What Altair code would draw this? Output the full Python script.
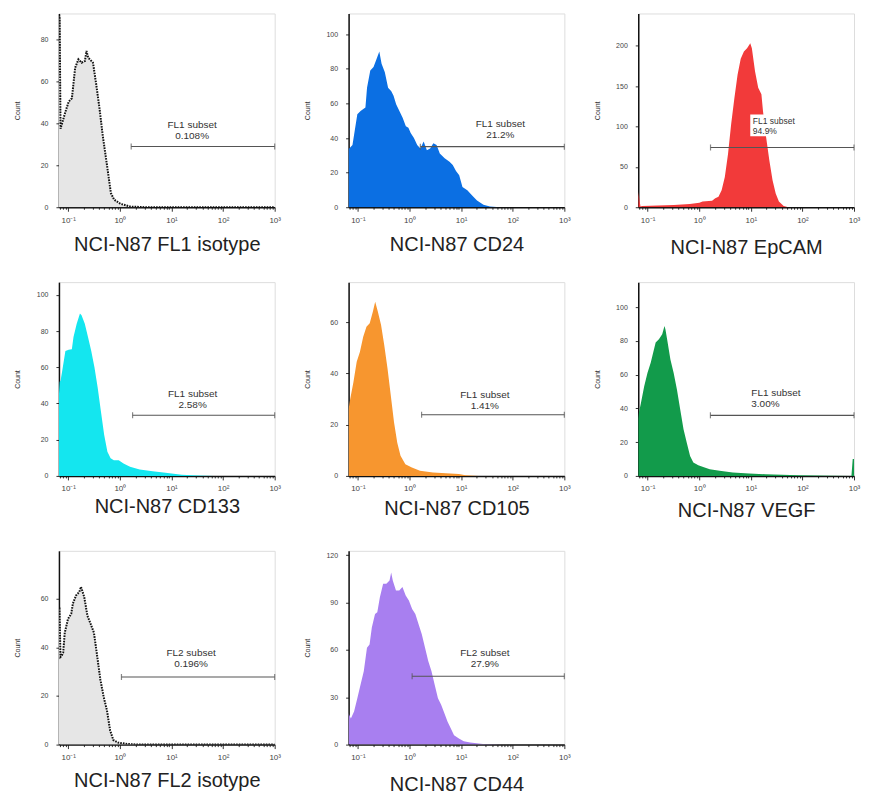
import altair as alt
import pandas as pd

# x values are log10 fluorescence positions (decades); y values are event counts
X_LO, X_HI = -1.18, 3.0

iso1_x = [-1.18, -1.167, -1.149, -1.054, -0.991, -0.929, -0.866, -0.803, -0.740, -0.677, -0.646, -0.614,
          -0.520, -0.457, -0.394, -0.331, -0.237, -0.174, -0.111, 0.014, 0.203, 0.517, 3.0]
iso1_y = [92, 90, 37.5, 45.6, 50.4, 52, 66.6, 70.6, 69, 69.8, 74.6, 71.4,
          69, 58.5, 47.2, 34.2, 18, 6.8, 3.6, 1.6, 0.3, 0, 0]

cd24_x = [-1.18, -1.167, -1.105, -1.073, -1.011, -0.948, -0.854, -0.823, -0.760, -0.697,
          -0.635, -0.585, -0.541, -0.478, -0.415, -0.353, -0.309, -0.259, -0.196, -0.133,
          -0.071, -0.021, 0.023, 0.086, 0.149, 0.211, 0.274, 0.337, 0.399, 0.462,
          0.525, 0.587, 0.681, 0.775, 0.838, 0.901, 0.963, 1.026, 1.120, 1.214,
          1.308, 1.433, 1.559, 1.747, 3.0]
cd24_y = [34, 34, 36, 42, 53.7, 55.6, 57.6, 69, 79, 81,
          86, 90, 83, 78, 69, 67, 64.4, 59.5, 55.6, 51.7,
          46.8, 45.9, 42.9, 40, 36, 34, 38, 33, 34, 37,
          36, 31, 28.3, 26.3, 24.4, 20.9, 18.5, 11.7, 9.8, 6.8,
          3.9, 1.4, 0.4, 0, 0]

epcam_x = [-1.18, -1.137, -1.106, -0.798, -0.490, -0.181, 0.004, 0.065, 0.250, 0.312,
           0.374, 0.435, 0.497, 0.559, 0.620, 0.682, 0.744, 0.805, 0.867, 0.928,
           0.990, 1.021, 1.083, 1.144, 1.206, 1.237, 1.298, 1.360, 1.422, 1.483,
           1.545, 1.637, 1.730, 3.0]
epcam_y = [19, 0.8, 1.5, 2, 2.9, 4, 5.7, 7, 8, 11,
           13, 21, 37.5, 66, 103, 135, 164, 184, 193, 197,
           203, 197, 168, 148, 140, 119, 86.5, 58, 33.5, 17,
           7, 1.6, 0, 0]

cd133_x = [-1.18, -1.167, -1.149, -1.117, -1.055, -0.992, -0.930, -0.898, -0.836, -0.773,
           -0.742, -0.679, -0.617, -0.554, -0.492, -0.429, -0.367, -0.304, -0.241, -0.179,
           -0.116, -0.022, 0.071, 0.197, 0.384, 0.635, 0.885, 1.198, 1.510, 1.823, 3.0]
cd133_y = [45, 52, 52.5, 58, 69, 69.6, 70, 76.7, 84, 89.7,
           88.7, 84, 76.7, 69, 60, 48.7, 35.7, 22.7, 13.4, 9.7,
           8.7, 8.7, 6.9, 5, 3.5, 2.6, 1.7, 0.7, 0.2, 0, 0]

cd105_x = [-1.18, -1.149, -1.086, -1.023, -0.960, -0.897, -0.834, -0.771, -0.709, -0.665,
           -0.614, -0.551, -0.489, -0.426, -0.363, -0.300, -0.237, -0.174, -0.080, 0.046,
           0.203, 0.454, 0.706, 0.957, 1.083, 1.334, 3.0]
cd105_y = [26, 30, 36.7, 44.6, 48.5, 54.4, 58.3, 59.6, 64.2, 68,
           64.2, 59, 51, 42, 31.5, 21, 13, 7.9, 4.6, 3.3,
           2, 1.3, 1, 0.7, 0.3, 0, 0]

vegf_x = [-1.18, -1.167, -1.129, -1.066, -1.002, -0.939, -0.907, -0.843, -0.780, -0.716,
          -0.672, -0.653, -0.621, -0.557, -0.494, -0.430, -0.367, -0.303, -0.240, -0.176,
          -0.113, -0.017, 0.078, 0.205, 0.396, 0.650, 0.967, 1.285, 1.920, 2.556,
          2.95, 2.975, 3.0]
vegf_y = [34, 37.5, 43, 53, 61, 67, 71, 79, 81, 84,
          88.8, 86.8, 81, 69, 61, 51, 39.4, 27.6, 19.7, 11.8,
          7.9, 6.3, 5.3, 3.9, 3, 2, 1.4, 1, 0.4, 0.1,
          0, 10, 10]

iso2_x = [-1.18, -1.17, -1.15, -1.130, -1.098, -1.067, -1.004, -0.942, -0.910, -0.847,
          -0.785, -0.753, -0.690, -0.628, -0.565, -0.502, -0.439, -0.377, -0.314, -0.251,
          -0.188, -0.126, -0.032, 0.125, 0.376, 3.0]
iso2_y = [56, 56, 36, 36.4, 37.8, 46, 51.7, 53.8, 58, 61.4,
          62.8, 64.9, 60.7, 53, 49.6, 46, 36.4, 26.7, 19.7, 14.2,
          5.8, 1.9, 0.8, 0.3, 0, 0]

cd44_x = [-1.18, -1.167, -1.136, -1.074, -1.011, -0.949, -0.886, -0.824, -0.774, -0.730,
          -0.668, -0.624, -0.574, -0.511, -0.449, -0.387, -0.355, -0.324, -0.262, -0.199,
          -0.137, -0.074, -0.012, 0.051, 0.113, 0.176, 0.238, 0.301, 0.363, 0.426,
          0.488, 0.551, 0.613, 0.676, 0.738, 0.801, 0.863, 0.957, 1.051, 1.176,
          1.425, 1.800, 3.0]
cd44_y = [20, 18.8, 16.6, 20.9, 29.4, 38, 46.5, 61.4, 63.5, 74.2,
          82.7, 83.8, 93.4, 102, 102, 104, 109, 104, 97.7, 97.7,
          99.8, 94.5, 91.3, 86, 82.7, 76.3, 70, 61.4, 52.9, 46.5,
          38, 29.4, 25.2, 19.8, 14.5, 10.2, 6, 3.8, 2.1, 1.3,
          0.4, 0, 0]

series_x = [iso1_x, cd24_x, epcam_x, cd133_x, cd105_x, vegf_x, iso2_x, cd44_x]
series_y = [iso1_y, cd24_y, epcam_y, cd133_y, cd105_y, vegf_y, iso2_y, cd44_y]

titles = ["NCI-N87 FL1 isotype", "NCI-N87 CD24", "NCI-N87 EpCAM", "NCI-N87 CD133",
          "NCI-N87 CD105", "NCI-N87 VEGF", "NCI-N87 FL2 isotype", "NCI-N87 CD44"]
fills = ["#e6e6e6", "#0b6fe3", "#f23a3a", "#14e6ef", "#f7962f", "#129b4b", "#e6e6e6", "#a87ff0"]
is_isotype = [True, False, False, False, False, False, True, False]
y_max = [92.5, 112, 240, 107, 75.7, 114.8, 79.7, 122.8]
y_ticks = [[0, 20, 40, 60, 80], [0, 20, 40, 60, 80, 100], [0, 50, 100, 150, 200],
           [0, 20, 40, 60, 80, 100], [0, 20, 40, 60], [0, 20, 40, 60, 80, 100],
           [0, 20, 40, 60], [0, 30, 60, 90, 120]]
gate_names = ["FL1 subset"] * 6 + ["FL2 subset"] * 2
gate_pcts = ["0.108%", "21.2%", "94.9%", "2.58%", "1.41%", "3.00%", "0.196%", "27.9%"]
gate_from = [0.22, 0.21, 0.22, 0.247, 0.234, 0.218, 0.031, 0.051]
gate_y = [29, 35, 74, 33.5, 23.9, 35.9, 27.8, 43.3]
label_x = [1.40, 1.76, 1.04, 1.41, 1.46, 1.01, 1.38, 1.46]
label_y1 = [39.4, 48.2, 107, 45.4, 31.5, 49, 37.8, 58.2]
label_y2 = [34.2, 41.8, 94.6, 39.3, 27.2, 42.5, 33.3, 51.2]
label_align = ["center", "center", "left", "center", "center", "left", "center", "center"]
label_size = [10, 10, 8.5, 10, 10, 10, 10, 10]
# white label box behind the EpCAM gate text (x in decades, y in counts)
box_x = [0.99, 2.05]
box_y = [88, 115]
title_y = [27.4, 27.4, 30.4, 21, 23, 25, 26.4, 30.4]

PW, PH = 216, 194

x_tick_vals = []
for d in range(-2, 3):
    for k in range(1, 10):
        v = round(k * 10 ** d, 6)
        if 10 ** X_LO <= v <= 1000:
            x_tick_vals.append(v)
x_tick_vals.append(1000)

label_expr = ("datum.value == 0.1 ? '10⁻¹' : datum.value == 1 ? '10⁰' : "
              "datum.value == 10 ? '10¹' : datum.value == 100 ? '10²' : "
              "datum.value == 1000 ? '10³' : ''")
major_test = "indexof([0.1, 1, 10, 100, 1000], datum.value) >= 0"


def panel(i):
    df = pd.DataFrame({"x": [10 ** v for v in series_x[i]], "y": series_y[i]})
    xs = alt.Scale(type="log", domain=[10 ** X_LO, 10 ** X_HI], nice=False)
    ys = alt.Scale(domain=[0, y_max[i]], nice=False, zero=True)
    xaxis = alt.Axis(values=x_tick_vals, labelExpr=label_expr, labelFontSize=8,
                     labelColor="#444", labelPadding=5, labelOverlap=False, labelFlush=False,
                     tickSize={"condition": {"test": major_test, "value": 4}, "value": 2},
                     tickColor="#333", grid=False, domainColor="#111", domainWidth=1.5,
                     title=titles[i], titleFontSize=20, titleFont="Liberation Sans",
                     titleFontWeight="normal", titleColor="#222", titleY=title_y[i])
    yaxis = alt.Axis(values=y_ticks[i], labelFontSize=7, labelColor="#444", labelPadding=8,
                     tickSize=3, tickColor="#333", grid=False, labelFlush=False,
                     labelOverlap=False, labelSeparation=0, labelBound=False,
                     domainColor="#111", domainWidth=1.5, title="Count", titleFontSize=7,
                     titleFontWeight="normal", titleColor="#333", titleX=-38, titleY=PH / 2)
    X = alt.X("x:Q", scale=xs, axis=xaxis)
    Y = alt.Y("y:Q", scale=ys, axis=yaxis)
    layers = [alt.Chart(df).mark_area(color=fills[i], clip=True, interpolate="linear").encode(
        x=X, y=Y)]
    if is_isotype[i]:
        layers.append(alt.Chart(df).mark_line(color="#111", strokeDash=[1.6, 1.1], strokeWidth=2,
                                              clip=True).encode(x=X, y=Y))
    if i == 2:
        bdf = pd.DataFrame({"x": [10 ** box_x[0]], "x2": [10 ** box_x[1]],
                            "y": [box_y[0]], "y2": [box_y[1]]})
        layers.append(alt.Chart(bdf).mark_rect(color="white").encode(
            x=X, x2="x2:Q", y=Y, y2="y2:Q"))
    gdf = pd.DataFrame({"x": [10 ** gate_from[i]], "x2": [10 ** X_HI], "y": [gate_y[i]]})
    layers.append(alt.Chart(gdf).mark_rule(color="#555", strokeWidth=1.2).encode(
        x=X, x2="x2:Q", y=Y))
    cdf = pd.DataFrame({"x": [10 ** gate_from[i], 10 ** X_HI], "y": [gate_y[i]] * 2})
    layers.append(alt.Chart(cdf).mark_tick(color="#555", orient="vertical", size=6,
                                           thickness=1.2).encode(x=X, y=Y))
    tdf = pd.DataFrame({"x": [10 ** label_x[i]] * 2, "y": [label_y1[i], label_y2[i]],
                        "t": [gate_names[i], gate_pcts[i]]})
    layers.append(alt.Chart(tdf).mark_text(align=label_align[i], baseline="middle",
                                           fontSize=label_size[i], color="#333",
                                           font="Liberation Sans").encode(
        x=X, y=Y, text="t:N"))
    return alt.layer(*layers).properties(width=PW, height=PH)


chart = alt.concat(*[panel(i) for i in range(8)], columns=3,
                   spacing={"row": 75, "column": 74}, bounds="flush").properties(
    padding={"left": 5, "top": 4, "right": 0, "bottom": 0}
).configure_view(stroke="#555", strokeWidth=1).configure_axis(
    labelOverlap=False
).configure(font="Liberation Sans")

chart.save("out.html", embed_options={"renderer": "svg", "actions": False})
